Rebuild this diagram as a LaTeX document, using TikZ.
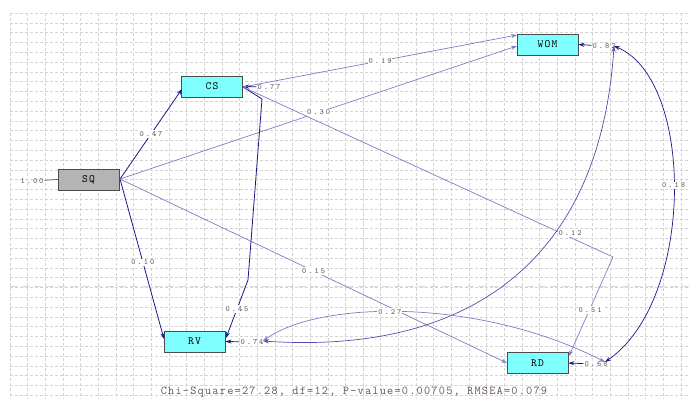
\documentclass[tikz,border=0pt]{standalone}
\usepackage{fontspec}
\usetikzlibrary{arrows.meta}
\newfontfamily\boxfnt[LetterSpace=12]{Latin Modern Mono}
\newfontfamily\lblfnt[LetterSpace=25]{Latin Modern Mono}
\newfontfamily\fitfnt[LetterSpace=10]{Latin Modern Mono}
\definecolor{navy}{RGB}{25,25,135}
\definecolor{lightpath}{RGB}{125,125,200}
\definecolor{midpath}{RGB}{80,80,170}
\definecolor{cyanbox}{RGB}{128,255,255}
\definecolor{graybox}{RGB}{180,180,180}
\definecolor{lbltext}{RGB}{100,85,85}
\definecolor{gridc}{RGB}{212,212,212}
\tikzset{
  varbox/.style={draw=black!70, line width=0.8pt, minimum width=61pt, minimum height=21pt, inner sep=0pt, font=\boxfnt\fontsize{11}{11}\selectfont},
  endo/.style={varbox, fill=cyanbox},
  exo/.style={varbox, fill=graybox},
  lbl/.style={font=\lblfnt\fontsize{8}{8}\selectfont, text=lbltext, inner sep=1pt},
  plbl/.style={lbl, fill=white},
  strongpath/.style={draw=navy, line width=0.8pt, -{Stealth[length=6pt,width=4pt]}},
  weakpath/.style={draw=lightpath, line width=0.7pt, -{Stealth[length=6pt,width=4pt]}},
  covpath/.style={line width=0.7pt, {Stealth[length=6pt,width=4pt]}-{Stealth[length=6pt,width=4pt]}},
  gridline/.style={draw=gridc, line width=0.4pt, dash pattern=on 2.5pt off 2.5pt},
  breakline/.style={draw=black!15, line width=0.8pt, dash pattern=on 8pt off 4pt}
}
\begin{document}
\begin{tikzpicture}[x=1pt,y=-1pt]
\useasboundingbox (0,0) rectangle (689,399);
% grid
\foreach \i in {0,...,38} { \draw[gridline] (10+17.65*\i,13) -- (10+17.65*\i,399); }
\foreach \j in {0,...,39} { \draw[gridline] (10,13+9.8*\j) -- (689,13+9.8*\j); }
\draw[breakline] (363,13) -- (363,399);
\draw[breakline] (10,286) -- (689,286);

% variables
\node[exo]  (SQ)  at (88.5,179.5) {SQ};
\node[endo] (CS)  at (212,86.5) {CS};
\node[endo] (WOM) at (547.5,44.5) {WOM};
\node[endo] (RV)  at (194.5,341.5) {RV};
\node[endo] (RD)  at (537.5,363) {RD};

% error labels
\node[lbl] (eSQ)  at (32,181) {1.00};
\node[lbl] (eCS)  at (269,87) {0.77};
\node[lbl] (eWOM) at (604,46) {0.82};
\node[lbl] (eRV)  at (252,342) {0.74};
\node[lbl] (eRD)  at (596,364) {0.68};

\draw[draw=black!70, line width=0.7pt] (eSQ) -- (SQ.west);
\draw[strongpath] (eCS) -- (CS.east);
\draw[strongpath] (eWOM) -- (WOM.east);
\draw[strongpath] (eRV) -- (RV.east);
\draw[strongpath] (eRD) -- (RD.east);

% anchor coordinates
\coordinate (sqo) at (120,179);
\coordinate (cso) at (243,87);
\coordinate (csk) at (262,99);
\coordinate (csk2) at (248,280);
\coordinate (rdk) at (613,257);
\coordinate (rvend) at (226,338);
\coordinate (rdend) at (569,356);
\coordinate (womtop) at (517,35);
\coordinate (womleft) at (517,46);
\coordinate (cstarget) at (182,89);
\coordinate (rvtl) at (164,339);
\coordinate (rdleft) at (507,363);
\coordinate (wE) at (614,46);
\coordinate (rvE) at (263,341);
\coordinate (rdE) at (605,362);

% paths
\draw[strongpath] (sqo) -- (cstarget) node[plbl, pos=0.5] {0.47};
\draw[weakpath] (sqo) -- (womleft) node[plbl, pos=0.5] {0.30};
\draw[weakpath] (cso) -- (womtop) node[plbl, pos=0.5] {0.19};
\draw[strongpath] (sqo) -- (rvtl) node[plbl, pos=0.52] {0.10};
\draw[weakpath] (sqo) -- (rdleft) node[plbl, pos=0.5] {0.15};
\draw[strongpath] (cso) -- (csk) -- (csk2) -- (rvend) node[plbl, pos=0.5] {0.45};
\draw[weakpath] (cso) -- (rdk) -- (rdend);
\node[plbl] at (590,310) {0.51};

% covariances
\draw[covpath, draw=midpath] (rvE) .. controls (470,355) and (600,260) .. (wE);
\node[plbl] at (570,233) {0.12};
\draw[covpath, draw=lightpath] (rvE) .. controls (320,300) and (480,298) .. (rdE) node[plbl, pos=0.45] {0.27};
\draw[covpath, draw=navy] (wE) .. controls (695,80) and (695,300) .. (rdE) node[plbl, pos=0.48] {0.18};

% fit statistics
\node[font=\fitfnt\fontsize{12}{12}\selectfont, text=lbltext, anchor=base, inner sep=0pt] (fit) at (354,394) {Chi-Square=27.28, df=12, P-value=0.00705, RMSEA=0.079};
\end{tikzpicture}
\end{document}
